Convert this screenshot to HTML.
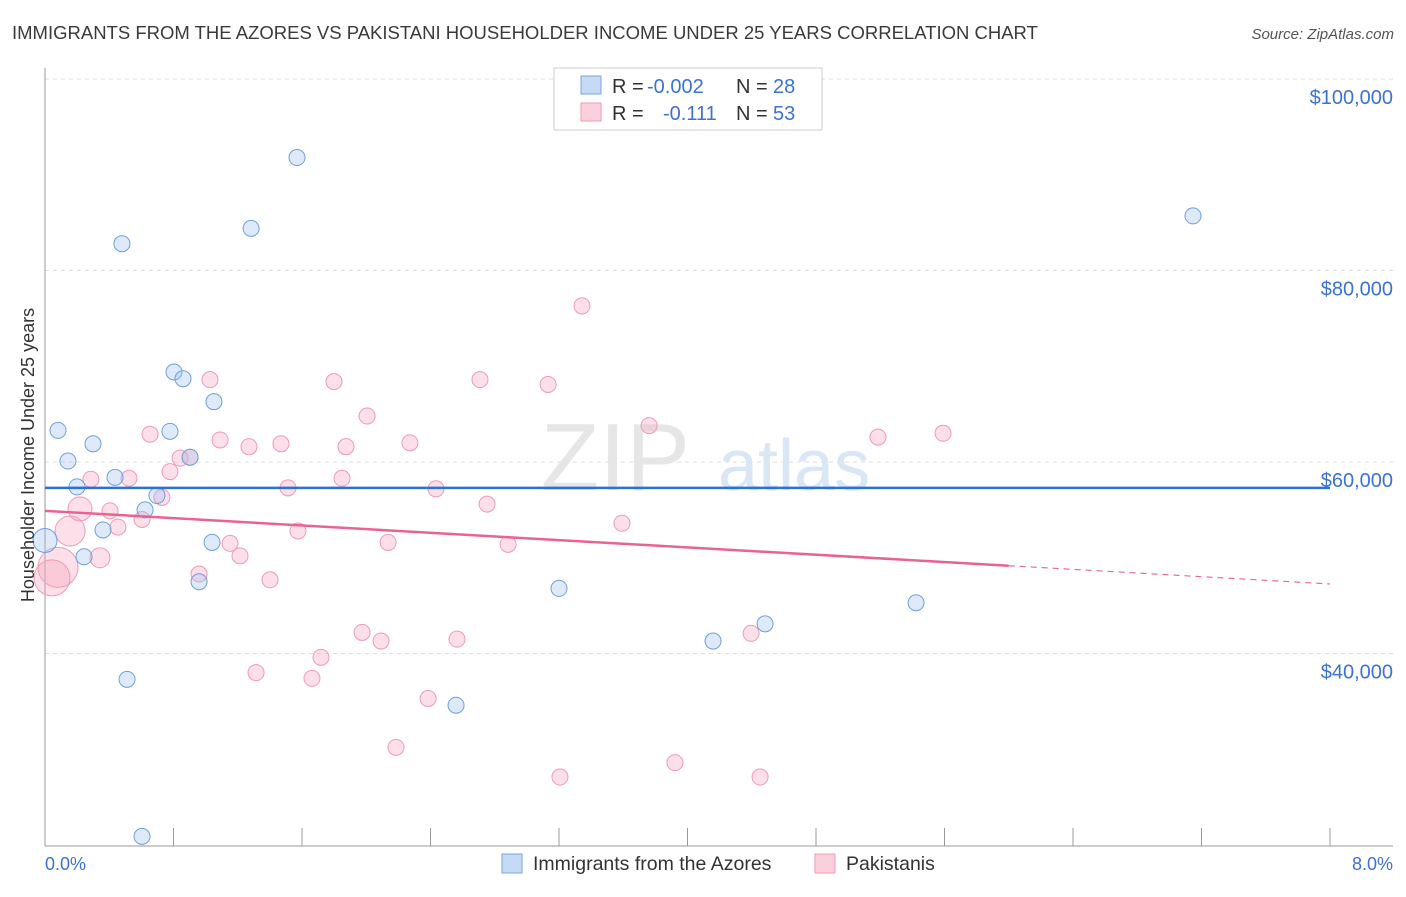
<!DOCTYPE html>
<html><head><meta charset="utf-8"><style>
body{margin:0;background:#fff;font-family:"Liberation Sans",sans-serif;}
svg text{font-family:"Liberation Sans",sans-serif;}
</style></head><body>
<svg id="chart" width="1406" height="892" xmlns="http://www.w3.org/2000/svg">
<text x="12" y="39" font-size="18.5" fill="#3a3a3a">IMMIGRANTS FROM THE AZORES VS PAKISTANI HOUSEHOLDER INCOME UNDER 25 YEARS CORRELATION CHART</text>
<text x="1394" y="39" font-size="15" fill="#555" font-style="italic" text-anchor="end">Source: ZipAtlas.com</text>
<g id="grid"></g>
<text x="690" y="490" font-size="96" fill="#e6e6e6" font-family="Liberation Serif" text-anchor="end">ZIP</text>
<text x="718" y="490" font-size="72" fill="#d8e6f6">atlas</text>
<g id="pts"></g>
<g id="lines"></g>
<text transform="translate(34,455) rotate(-90)" font-size="18" fill="#333" text-anchor="middle">Householder Income Under 25 years</text>
<text x="45" y="870" font-size="18" fill="#3b73d1">0.0%</text>
<text x="1393" y="870" font-size="18" fill="#3b73d1" text-anchor="end">8.0%</text>
<g>
<rect x="554" y="68" width="268" height="62" fill="#fff" stroke="#ccc"/>
<rect x="581" y="76" width="20" height="18" fill="#c5daf5" stroke="#7aa6e0"/>
<rect x="581" y="103" width="20" height="18" fill="#fbd0dc" stroke="#f09ab3"/>
<text x="612" y="93" font-size="20" fill="#333">R =</text>
<text x="647" y="93" font-size="20" fill="#3b73d1">-0.002</text>
<text x="736" y="93" font-size="20" fill="#333">N =</text>
<text x="773" y="93" font-size="20" fill="#3b73d1">28</text>
<text x="612" y="120" font-size="20" fill="#333">R =</text>
<text x="663" y="120" font-size="20" fill="#3b73d1">-0.111</text>
<text x="736" y="120" font-size="20" fill="#333">N =</text>
<text x="773" y="120" font-size="20" fill="#3b73d1">53</text>
</g>
<g>
<rect x="502" y="854" width="20" height="19" fill="#c5daf5" stroke="#7aa6e0"/>
<text x="533" y="870" font-size="19.5" fill="#333">Immigrants from the Azores</text>
<rect x="815" y="854" width="20" height="19" fill="#fbd0dc" stroke="#f09ab3"/>
<text x="846" y="870" font-size="19.5" fill="#333">Pakistanis</text>
</g>
</svg>
<script>
const yTicks=[40000,60000,80000,100000];
const yTickLabels=["$40,000","$60,000","$80,000","$100,000"];
const blueX=[1.569,1.283,0.479,7.147,0.803,0.859,1.052,0.081,0.778,0.299,0.143,0.903,0.436,0.199,0.697,0.623,0.361,1.040,0.0,0.243,0.959,3.200,5.423,4.483,4.159,0.511,2.559,0.604];
const blueY=[91.8,84.4,82.8,85.7,69.4,68.7,66.3,63.3,63.2,61.9,60.1,60.5,58.4,57.4,56.5,55.0,52.9,51.6,51.8,50.1,47.5,46.8,45.3,43.1,41.3,37.3,34.6,20.9];
const blueR=[8,8,8,8,8,8,8,8,8,8,8,8,8,8,8,8,8,8,12,8,8,8,8,8,8,8,8,8];
const pinkX=[3.343,1.027,1.799,2.708,3.132,2.005,3.761,0.654,1.090,5.186,5.591,1.270,1.469,1.874,2.272,0.841,0.778,0.286,0.523,1.849,1.513,2.434,0.728,2.752,0.218,0.405,0.604,3.592,0.454,1.575,0.156,1.152,2.136,2.883,1.214,0.342,0.081,0.044,0.959,1.401,1.974,2.092,2.565,4.396,1.718,1.314,1.662,2.385,2.185,3.206,3.922,4.452,0.903];
const pinkY=[76.3,68.6,68.4,68.6,68.1,64.8,63.8,62.9,62.3,62.6,63.0,61.6,61.9,61.6,62.0,60.4,59.0,58.2,58.3,58.3,57.3,57.2,56.3,55.6,55.1,54.9,54.0,53.6,53.2,52.8,52.8,51.5,51.6,51.4,50.2,50.0,49.0,47.9,48.3,47.7,42.2,41.3,41.5,42.1,39.6,38.0,37.4,35.3,30.2,27.1,28.6,27.1,60.5];
const pinkR=[8,8,8,8,8,8,8,8,8,8,8,8,8,8,8,8,8,8,8,8,8,8,8,8,12,8,8,8,8,8,15,8,8,8,8,10,20,18,8,8,8,8,8,8,8,8,8,8,8,8,8,8,8];
const blueTrend=[57.3,57.3];
const pinkTrend=[54.9,47.26];
const xs=v=>45+v/8*1285;
const ys=k=>462-(k-60)*191.5/20;
const NS="http://www.w3.org/2000/svg";
function mk(t,a,p){const e=document.createElementNS(NS,t);for(const k in a)e.setAttribute(k,a[k]);p.appendChild(e);return e;}
const grid=document.getElementById('grid');
mk('line',{x1:45,y1:79,x2:1393,y2:79,stroke:'#ddd','stroke-dasharray':'4,4'},grid);
yTicks.forEach((t,i)=>{const y=ys(t/1000);
const l=mk('line',{x1:45,y1:y,x2:1393,y2:y,stroke:'#ddd','stroke-dasharray':'4,4'},grid);


const tx=mk('text',{x:1393,y:y+25,'font-size':20,fill:'#3b73d1','text-anchor':'end'},grid);tx.textContent=yTickLabels[i];

});
mk('line',{x1:45,y1:68,x2:45,y2:846,stroke:'#999'},grid);
mk('line',{x1:45,y1:846,x2:1393,y2:846,stroke:'#999'},grid);
for(let i=0;i<=10;i++){const x=xs(i*0.8);mk('line',{x1:x,y1:828,x2:x,y2:846,stroke:'#999'},grid);}
const pts=document.getElementById('pts');
pinkX.forEach((v,i)=>{const c=mk('circle',{cx:xs(v),cy:ys(pinkY[i]),r:pinkR[i],fill:'rgba(246,164,190,0.35)',stroke:'#ef9ab5','stroke-width':1},pts);

});
blueX.forEach((v,i)=>{const c=mk('circle',{cx:xs(v),cy:ys(blueY[i]),r:blueR[i],fill:'rgba(160,195,240,0.35)',stroke:'#6e9fdd','stroke-width':1},pts);

});
const lines=document.getElementById('lines');
const bl=mk('line',{x1:xs(0),y1:ys(blueTrend[0]),x2:xs(8),y2:ys(blueTrend[1]),stroke:'#2f6fd6','stroke-width':2.5},lines);


const pAt=v=>pinkTrend[0]+(pinkTrend[1]-pinkTrend[0])*v/8;
const pl=mk('line',{x1:xs(0),y1:ys(pAt(0)),x2:xs(6),y2:ys(pAt(6)),stroke:'#e8648f','stroke-width':2.5},lines);


const pd=mk('line',{x1:xs(6),y1:ys(pAt(6)),x2:xs(8),y2:ys(pAt(8)),stroke:'#e8648f','stroke-width':1.2,'stroke-dasharray':'6,5'},lines);


</script>
</body></html>
